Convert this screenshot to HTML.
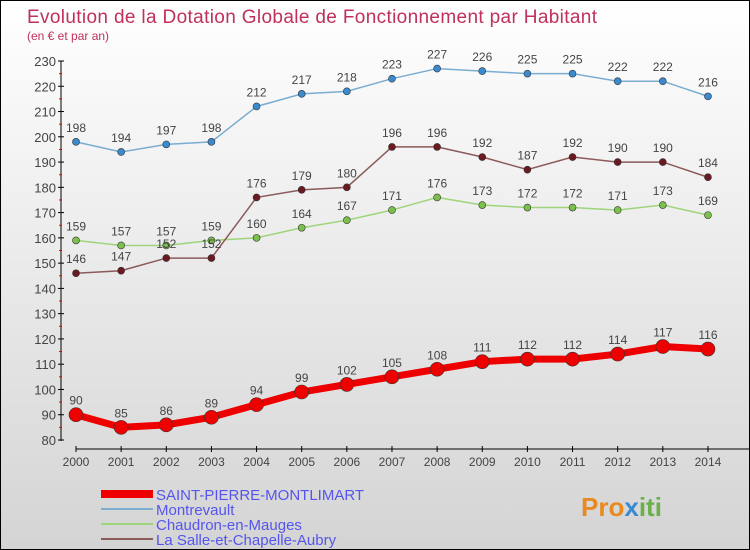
<!DOCTYPE html>
<html><head><meta charset="utf-8"><style>
body{margin:0}
#c{width:750px;height:550px;position:relative;box-sizing:border-box;border:1px solid #000;background:linear-gradient(#fff,#d4d4d4);font-family:"Liberation Sans",sans-serif;overflow:hidden}
</style></head><body>
<div id="c">
<svg id="s" width="748" height="548" xmlns="http://www.w3.org/2000/svg">
<text x="26" y="22" font-size="19" fill="#c0305a" textLength="570">Evolution de la Dotation Globale de Fonctionnement par Habitant</text>
<text x="26" y="39" font-size="12" fill="#c0305a">(en € et par an)</text>
<g id="ax"></g><g id="ser"></g>
<g>
<line x1="100" y1="493" x2="152" y2="493" stroke="#e00" stroke-width="8"/>
<text x="155" y="499" font-size="15" fill="#5555ee">SAINT-PIERRE-MONTLIMART</text>
<line x1="100" y1="508" x2="152" y2="508" stroke="#7aadd0" stroke-width="2"/>
<text x="155" y="514" font-size="15" fill="#5555ee">Montrevault</text>
<line x1="100" y1="523" x2="152" y2="523" stroke="#9ed47a" stroke-width="2"/>
<text x="155" y="529" font-size="15" fill="#5555ee">Chaudron-en-Mauges</text>
<line x1="100" y1="538" x2="152" y2="538" stroke="#8b5a5a" stroke-width="2"/>
<text x="155" y="544" font-size="15" fill="#5555ee">La Salle-et-Chapelle-Aubry</text>
</g>
<text x="580" y="515" font-size="26" font-weight="bold" fill="#e88a20">Pro<tspan fill="#3a8ad0">x</tspan><tspan fill="#6ab04a">iti</tspan></text>
</svg></div>
<script>
const years=[2000,2001,2002,2003,2004,2005,2006,2007,2008,2009,2010,2011,2012,2013,2014];
const yTicks=[80,90,100,110,120,130,140,150,160,170,180,190,200,210,220,230];
const saint=[90,85,86,89,94,99,102,105,108,111,112,112,114,117,116];
const montrevault=[198,194,197,198,212,217,218,223,227,226,225,225,222,222,216];
const chaudron=[159,157,157,159,160,164,167,171,176,173,172,172,171,173,169];
const lasalle=[146,147,152,152,176,179,180,196,196,192,187,192,190,190,184];
const NS="http://www.w3.org/2000/svg";
const X=i=>75+i*45.14, Y=v=>439-(v-80)*(379/150);
function mk(t,a,p){const e=document.createElementNS(NS,t);for(const k in a)e.setAttribute(k,a[k]);p.appendChild(e);return e;}
const ax=document.getElementById('ax'),ser=document.getElementById('ser');
let e=mk('line',{x1:60,y1:Y(230),x2:60,y2:440,stroke:'#000'},ax);


e=mk('line',{x1:75,y1:448,x2:748,y2:448,stroke:'#000'},ax);


yTicks.forEach(v=>{
 mk('line',{x1:57,x2:63,y1:Y(v),y2:Y(v),stroke:'#000'},ax);
 if(v<230) mk('line',{x1:58,x2:61,y1:Y(v+5),y2:Y(v+5),stroke:'#e00'},ax);
 const t=mk('text',{x:55,y:Y(v)+5,'font-size':13,fill:'#444','text-anchor':'end'},ax);t.textContent=v;
 
 
});
years.forEach((y,i)=>{
 mk('line',{x1:X(i),x2:X(i),y1:445,y2:451,stroke:'#000'},ax);
 const t=mk('text',{x:X(i),y:465,'font-size':12,fill:'#444','text-anchor':'middle'},ax);t.textContent=y;
 
 
});
function series(d,col,dot,w,r,name){
 const g=mk('g',{},ser);
 
 
 mk('polyline',{points:d.map((v,i)=>X(i)+','+Y(v)).join(' '),fill:'none',stroke:col,'stroke-width':w},g);
 d.forEach((v,i)=>{
  const c=mk('circle',{cx:X(i),cy:Y(v),r:r,fill:dot,stroke:'#333','stroke-width':0.6},g);
  
  
  const t=mk('text',{x:X(i),y:Y(v)-10,'font-size':12,fill:'#444','text-anchor':'middle'},g);t.textContent=v;
  
  
 });
}
series(montrevault,'#7aadd0','#3a8ad0',1.5,3.5,'montrevault');
series(chaudron,'#9ed47a','#7ac04a',1.5,3.5,'chaudron');
series(lasalle,'#8b5a5a','#6b1a22',1.5,3.5,'la-salle');
series(saint,'#e00','#e00',7,7,'saint-pierre');
</script>
</body></html>
